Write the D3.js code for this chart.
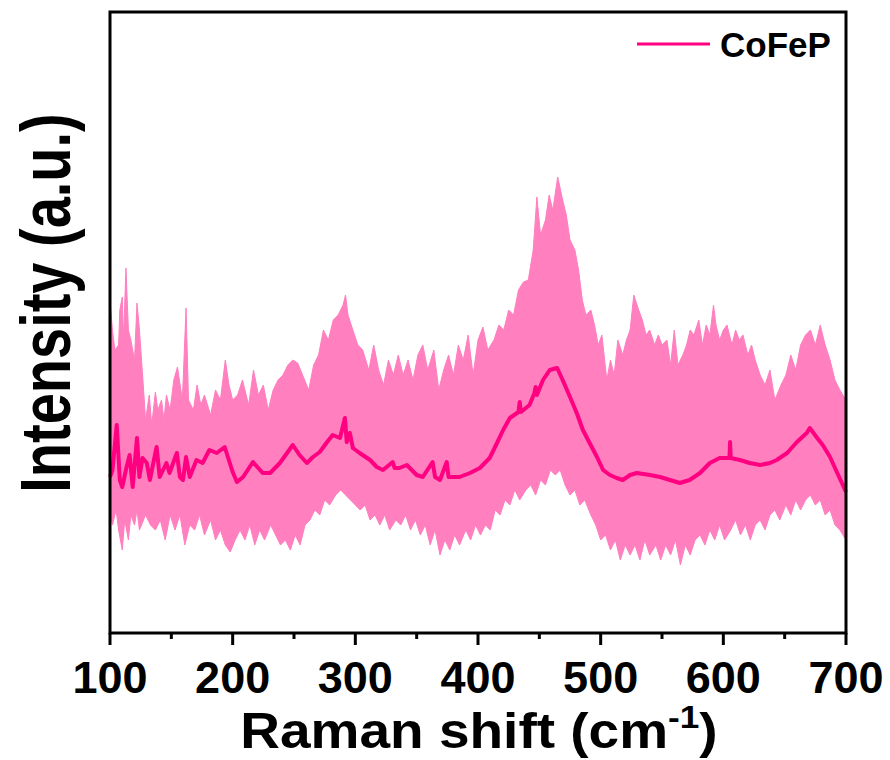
<!DOCTYPE html>
<html><head><meta charset="utf-8">
<script src="https://cdn.jsdelivr.net/npm/d3@7"></script>
<style>
html,body{margin:0;padding:0;background:#fff;}
svg text{font-family:"Liberation Sans",Arial,sans-serif;font-weight:bold;fill:#000;}
</style></head>
<body>
<svg id="chart" width="890" height="760"></svg>
<script>
// ---- data (Raman shift in cm^-1, intensity in arbitrary units) ----
const seriesName = "CoFeP";
const xTicks = [100, 200, 300, 400, 500, 600, 700];
const xMinorTicks = [150, 250, 350, 450, 550, 650];

// smoothed / averaged spectrum (dark line)
const meanShift = [100,102,105.5,108,110,113.5,116,118.5,122,124,126.5,130,132.5,138,140.5,146,148.5,154.5,157,159.5,162,165,170.5,175.5,181,187,193.5,200,203.5,208.5,216.5,224.5,230.5,238.5,249,254.5,260.5,265.5,271,277,281.5,287.5,291.5,293,295.5,298,303.5,312,317.5,322.5,330.5,332,336,342,350,355,363,365,369,374.5,376,385,393.5,401.5,409.5,415.5,420.5,426,433,434,435,442,446,447,448,453,458.5,464.5,469,475,480.5,485.5,491,497,502,507.5,513,518,524,529.5,540,548.5,556.5,564.5,572.5,581,589,597,605,605.5,606,613.5,621.5,630,638,643.5,652,660,668,670.5,676.5,681,687,692.5,700];
const meanIntensity = [156,163,208,153,146,166,178,146,195,156,175,170,153,186,156,170,160,180,156,153,176,156,173,170,183,180,186,161,151,156,171,160,160,170,188,178,170,176,181,191,198,195,215,191,200,185,180,173,166,163,171,165,165,168,158,156,171,156,153,171,156,156,160,165,175,190,203,215,221,231,221,228,240,246,238,253,263,265,253,236,220,203,190,176,163,158,155,153,158,160,158,156,153,150,153,160,170,175,175,191,175,173,170,168,170,173,180,191,200,205,195,188,176,161,141];

// raw noisy spectrum: upper envelope
const highShift = [100,102,104,107,108,110,111,113,115,117,120,122,124,127,129,132,134,137,139,142,144,146,149,152,155,159,162,164,168,171,174,177,182,186,190,194,197,200,204,208,213,217,221,225,229,233,237,241,245,249,253,257,262,266,270,274,278,282,286,290,292,294,298,302,306,311,315,319,323,327,331,335,339,343,347,351,355,359,364,368,372,376,380,384,388,392,396,400,404,408,413,417,421,425,429,433,437,441,445,448,451,455,458,461,464,465,469,472,475,479,482,485,488,492,495,498,501,505,508,511,514,518,521,524,527,531,534,537,540,544,547,550,554,557,560,563,567,570,573,576,580,583,586,589,592,594,597,600,603,607,610,613,616,620,623,626,630,634,638,642,647,651,655,659,663,667,671,675,679,683,687,691,695,700];
const highIntensity = [333,303,283,288,323,336,293,365,303,293,273,330,303,250,213,238,208,241,223,233,213,238,223,253,266,233,325,233,223,248,228,238,218,243,233,273,248,233,238,253,228,263,238,248,223,243,253,258,268,273,270,258,243,268,278,303,293,313,318,328,338,318,303,288,283,263,288,263,248,273,258,278,258,273,253,278,288,263,283,243,263,278,258,288,273,298,258,293,306,283,293,308,303,323,318,343,351,353,383,436,398,413,438,423,448,456,433,418,393,383,363,333,318,323,308,288,298,253,273,258,293,278,293,303,338,323,313,298,303,288,298,288,293,268,303,268,278,288,303,298,313,288,308,298,328,308,293,303,308,288,303,293,298,278,288,273,258,248,263,233,248,258,278,263,288,298,303,288,308,288,273,253,243,233];

// raw noisy spectrum: lower envelope
const lowShift = [100,102,105,107,110,112,115,117,120,122,124,129,133,137,141,145,149,153,157,161,165,169,173,177,182,186,190,194,198,202,206,210,214,218,222,226,231,235,239,243,247,251,255,259,263,267,271,275,279,284,288,292,296,300,304,308,312,316,320,324,328,333,337,341,345,349,353,357,361,365,369,373,377,381,385,390,394,398,402,406,410,414,418,422,426,430,434,439,443,447,451,455,459,463,467,471,475,479,483,487,492,496,500,504,508,512,516,520,524,528,532,536,540,545,549,553,557,561,565,569,573,577,581,585,589,593,597,601,606,610,614,618,622,626,630,634,638,642,646,651,655,659,663,667,671,675,679,683,687,691,695,700];
const lowIntensity = [118,108,123,103,83,113,93,118,108,123,103,118,108,103,113,93,118,103,118,88,108,103,118,98,113,93,103,88,81,93,103,93,108,88,103,93,108,98,88,93,83,98,88,108,113,123,118,133,128,138,143,138,133,128,123,128,113,118,108,118,103,113,108,118,103,113,98,108,88,103,78,93,83,98,88,103,93,108,98,108,103,123,118,133,128,143,133,143,148,138,153,148,163,158,163,148,138,143,128,133,118,108,93,98,83,93,73,88,78,88,73,93,78,88,73,88,78,93,68,88,78,93,98,88,103,93,108,93,103,113,98,108,93,108,113,103,118,123,113,128,118,133,123,133,138,128,133,118,123,108,103,93];

// ---- layout ----
const L = 110, R = 846, T = 12, B = 633;
const svg = d3.select("#chart");
const x = d3.scaleLinear().domain([100, 700]).range([L, R]);
const y = d3.scaleLinear().domain([0, 621]).range([B, T]);

const lightPink = "#ff7fbf", deepPink = "#ff0080";

// band polygon: upper envelope forward, lower envelope backward
const bandPts = highShift.map((s, i) => [s, highIntensity[i]])
  .concat(lowShift.map((s, i) => [s, lowIntensity[i]]).reverse());
const polyLine = d3.line().x(d => x(d[0])).y(d => y(d[1])).curve(d3.curveLinearClosed);
svg.append("path").attr("d", polyLine(bandPts))
  .attr("fill", lightPink).attr("stroke", lightPink).attr("stroke-width", 1);

// mean line
const meanPts = meanShift.map((s, i) => [s, meanIntensity[i]]);
const line = d3.line().x(d => x(d[0])).y(d => y(d[1]));
svg.append("path").attr("d", line(meanPts))
  .attr("fill", "none").attr("stroke", deepPink).attr("stroke-width", 4)
  .attr("stroke-linejoin", "round");

// frame
svg.append("rect").attr("x", L).attr("y", T).attr("width", R - L).attr("height", B - T)
  .attr("fill", "none").attr("stroke", "#000").attr("stroke-width", 3);

// ticks
svg.selectAll(".maj").data(xTicks).enter().append("line")
  .attr("x1", d => x(d)).attr("x2", d => x(d)).attr("y1", B).attr("y2", B + 12)
  .attr("stroke", "#000").attr("stroke-width", 3);
svg.selectAll(".min").data(xMinorTicks).enter().append("line")
  .attr("x1", d => x(d)).attr("x2", d => x(d)).attr("y1", B).attr("y2", B + 6)
  .attr("stroke", "#000").attr("stroke-width", 3);
svg.selectAll(".tl").data(xTicks).enter().append("text")
  .attr("x", d => x(d)).attr("y", 693).attr("text-anchor", "middle")
  .style("font-size", "45px").text(d => d);

// axis titles
const xt = svg.append("text").attr("transform", "translate(479,748) scale(1.1,1)")
  .attr("text-anchor", "middle").style("font-size", "50px");
xt.append("tspan").text("Raman shift (cm");
xt.append("tspan").attr("dy", -20).style("font-size", "32px").text("-1");
xt.append("tspan").attr("dy", 20).text(")");

svg.append("text").attr("transform", "translate(70,303) rotate(-90) scale(0.8,1)")
  .attr("text-anchor", "middle").style("font-size", "70px").text("Intensity (a.u.)");

// legend
svg.append("line").attr("x1", 637).attr("x2", 710).attr("y1", 44).attr("y2", 44)
  .attr("stroke", deepPink).attr("stroke-width", 3);
svg.append("text").attr("x", 720).attr("y", 57).style("font-size", "35px").text(seriesName);
</script>
</body></html>
